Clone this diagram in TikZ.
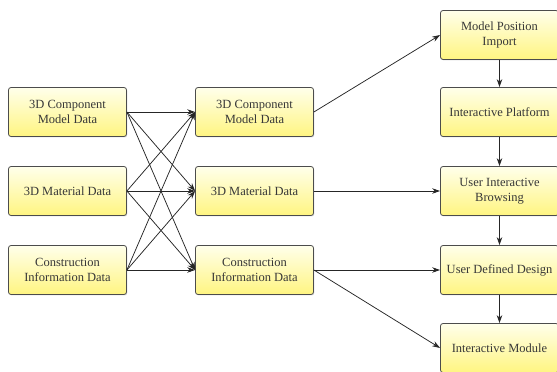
\documentclass[tikz,border=0pt]{standalone}
\usepackage{fontspec}
\setmainfont{Liberation Serif}
\usetikzlibrary{arrows.meta,shadows}
\begin{document}
\begin{tikzpicture}[x=1pt,y=1pt,
  box/.style={rectangle, rounded corners=2.5pt, draw=black!70, line width=0.8pt,
    top color=yellow!8!white, bottom color=yellow!45!white!92!orange,
    minimum width=118pt, minimum height=49pt, align=center, inner sep=2pt,
    text=black!78, font=\fontsize{12.5}{15}\selectfont,
    drop shadow={opacity=0.25, shadow xshift=0.8pt, shadow yshift=-1pt}},
  link/.style={draw=black!85, line width=0.75pt, -{Stealth[length=8pt,width=5.5pt]}}]
\useasboundingbox (0,0) rectangle (557,372);
% source data
\node[box] (l1) at (67.5,260) {3D Component\\Model Data};
\node[box] (l2) at (67.5,181) {3D Material Data};
\node[box] (l3) at (67.5,102) {Construction\\Information Data};
% integrated data
\node[box] (m1) at (254.5,260) {3D Component\\Model Data};
\node[box] (m2) at (254.5,181) {3D Material Data};
\node[box] (m3) at (254.5,102) {Construction\\Information Data};
% platform chain
\node[box] (r1) at (499.5,337) {Model Position\\Import};
\node[box] (r2) at (499.5,260) {Interactive Platform};
\node[box] (r3) at (499.5,181) {User Interactive\\Browsing};
\node[box] (r4) at (499.5,102) {User Defined Design};
\node[box] (r5) at (499.5,24) {Interactive Module};
% all sources feed all integrated sets
\foreach \a in {l1,l2,l3}
  \foreach \b in {m1,m2,m3}
    \draw[link] (\a.east) -- (\b.west);
\draw[link] (m1.east) -- (r1.west);
\draw[link] (m2.east) -- (r3.west);
\draw[link] (m3.east) -- (r4.west);
\draw[link] (m3.east) -- (r5.west);
\draw[link] (r1) -- (r2);
\draw[link] (r2) -- (r3);
\draw[link] (r3) -- (r4);
\draw[link] (r4) -- (r5);
\end{tikzpicture}
\end{document}
